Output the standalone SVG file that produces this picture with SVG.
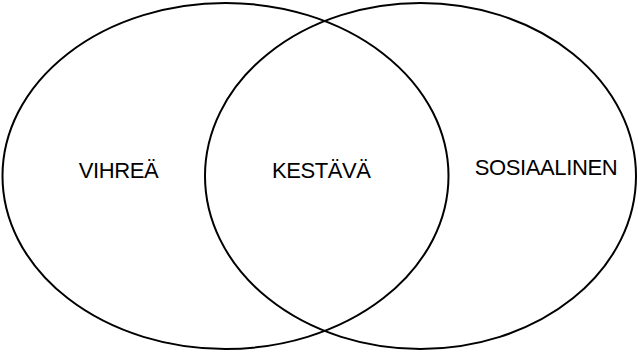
<svg xmlns="http://www.w3.org/2000/svg" width="638" height="352" viewBox="0 0 638 352">
<style>
.set{fill:none;stroke:#000;stroke-width:2}
.lbl{font-family:"Liberation Sans",Arial,sans-serif;font-size:22px;letter-spacing:-0.4px;fill:#000;text-anchor:middle}
</style>
<rect width="638" height="352" fill="#fff"/>
<g id="vihrea">
<ellipse class="set" cx="225.5" cy="176" rx="223" ry="173"/>
<text class="lbl" x="118.5" y="178">VIHREÄ</text>
</g>
<g id="sosiaalinen">
<ellipse class="set" cx="420.5" cy="176" rx="215.5" ry="173"/>
<text class="lbl" x="546" y="175">SOSIAALINEN</text>
</g>
<g id="kestava">
<text class="lbl" x="321.3" y="178">KESTÄVÄ</text>
</g>
<g id="connectors"></g>
</svg>
